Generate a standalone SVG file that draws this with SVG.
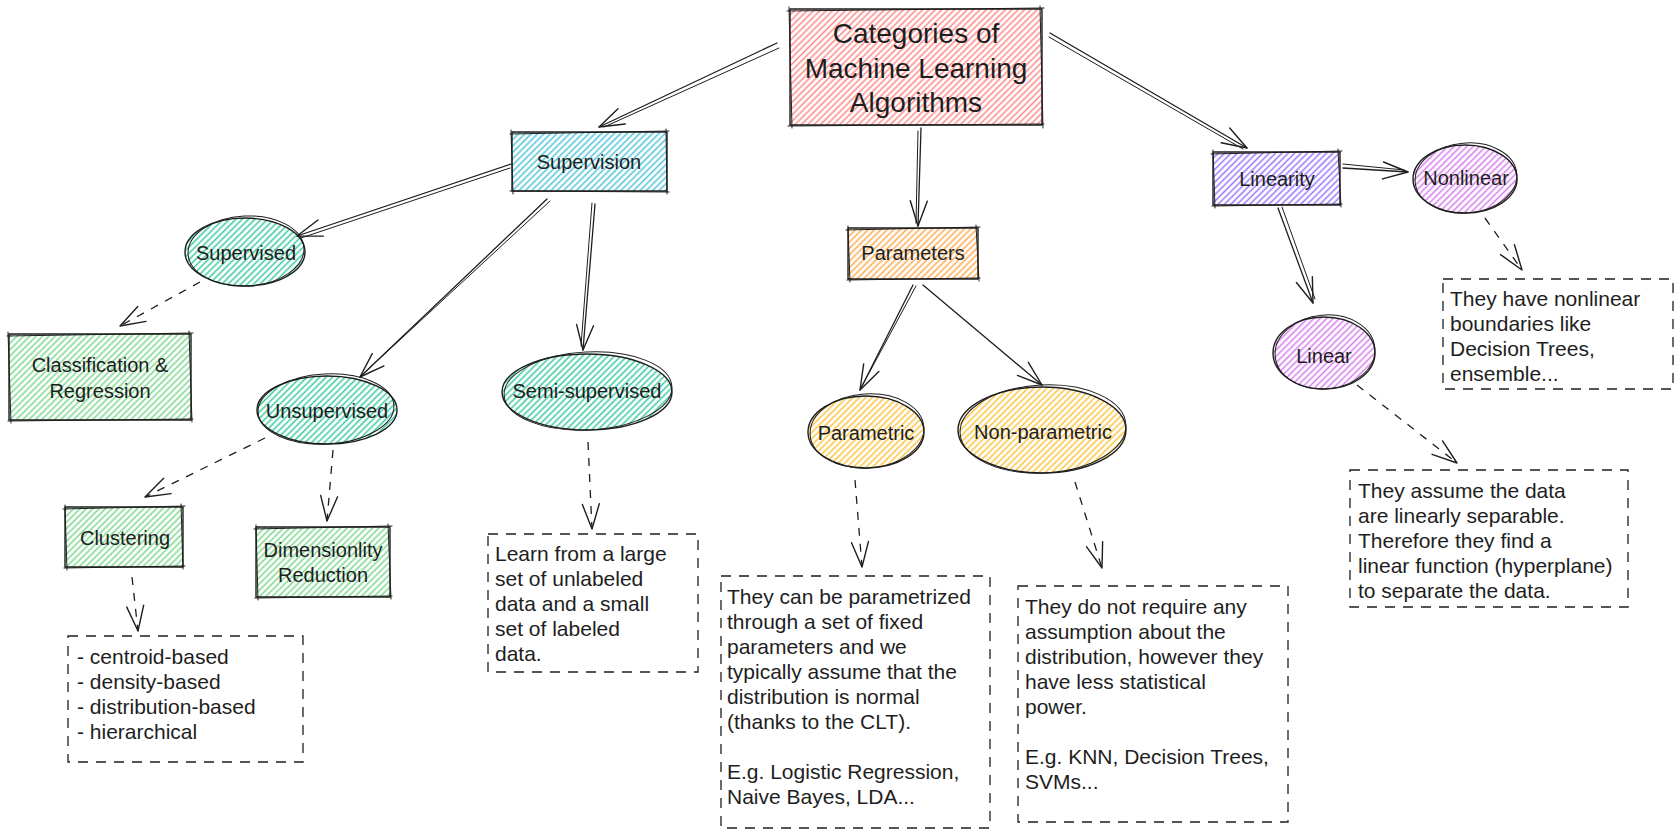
<svg xmlns="http://www.w3.org/2000/svg" width="1679" height="836" viewBox="0 0 1679 836">
<defs>
<style>
.o{fill:none;stroke:#1e1e1e;stroke-width:1.4;stroke-linecap:round;stroke-linejoin:round}
.o2{fill:none;stroke:#1e1e1e;stroke-width:1;stroke-linecap:round}
.c{fill:none;stroke:#1e1e1e;stroke-width:1.3;stroke-linecap:round}
.d{fill:none;stroke:#1e1e1e;stroke-width:1.3;stroke-dasharray:8 8}
.db{fill:none;stroke:#1e1e1e;stroke-width:1.3;stroke-dasharray:10 8}
.lbl{font-family:"Liberation Sans",Arial,sans-serif;font-size:20px;fill:#1e1e1e;text-anchor:middle;dominant-baseline:central}
.ttl{font-family:"Liberation Sans",Arial,sans-serif;font-size:28px;fill:#1e1e1e;text-anchor:middle;dominant-baseline:central}
.bt{font-family:"Liberation Sans",Arial,sans-serif;font-size:21px;fill:#1e1e1e;dominant-baseline:central}
</style>
<pattern id="hRed" width="4.5" height="10" patternUnits="userSpaceOnUse" patternTransform="rotate(45)"><line x1="2.25" y1="0" x2="2.25" y2="10" stroke="#ff8787" stroke-width="1.5"/></pattern>
<pattern id="hCyan" width="4.5" height="10" patternUnits="userSpaceOnUse" patternTransform="rotate(45)"><line x1="2.25" y1="0" x2="2.25" y2="10" stroke="#4fc3d9" stroke-width="1.5"/></pattern>
<pattern id="hTeal" width="4.5" height="10" patternUnits="userSpaceOnUse" patternTransform="rotate(45)"><line x1="2.25" y1="0" x2="2.25" y2="10" stroke="#38c99e" stroke-width="1.5"/></pattern>
<pattern id="hGreen" width="4.5" height="10" patternUnits="userSpaceOnUse" patternTransform="rotate(45)"><line x1="2.25" y1="0" x2="2.25" y2="10" stroke="#7bd88b" stroke-width="1.5"/></pattern>
<pattern id="hOrange" width="4.5" height="10" patternUnits="userSpaceOnUse" patternTransform="rotate(45)"><line x1="2.25" y1="0" x2="2.25" y2="10" stroke="#ffa94d" stroke-width="1.5"/></pattern>
<pattern id="hYellow" width="4.5" height="10" patternUnits="userSpaceOnUse" patternTransform="rotate(45)"><line x1="2.25" y1="0" x2="2.25" y2="10" stroke="#fcc33a" stroke-width="1.5"/></pattern>
<pattern id="hViolet" width="4.5" height="10" patternUnits="userSpaceOnUse" patternTransform="rotate(45)"><line x1="2.25" y1="0" x2="2.25" y2="10" stroke="#9775fa" stroke-width="1.5"/></pattern>
<pattern id="hGrape" width="4.5" height="10" patternUnits="userSpaceOnUse" patternTransform="rotate(45)"><line x1="2.25" y1="0" x2="2.25" y2="10" stroke="#d77bf0" stroke-width="1.5"/></pattern>
<marker id="ah" viewBox="-28 -12 30 24" refX="0" refY="0" markerWidth="30" markerHeight="24" markerUnits="userSpaceOnUse" orient="auto">
<path d="M-25,-8.5 L0,0 L-25,8.5" fill="none" stroke="#1e1e1e" stroke-width="1.4" stroke-linecap="round" stroke-linejoin="round"/>
</marker>
</defs>
<rect width="1679" height="836" fill="#ffffff"/>

<g id="connectors">
<path class="c" d="M777,43 L599,127" marker-end="url(#ah)"/>
<path class="o2" d="M779,48 L604,127"/>
<path class="c" d="M921,128 L918,226" marker-end="url(#ah)"/>
<path class="o2" d="M918,131 L916,223"/>
<path class="c" d="M1050,33 L1247,148" marker-end="url(#ah)"/>
<path class="o2" d="M1049,37 L1243,149"/>
<path class="c" d="M511,164 L297,236" marker-end="url(#ah)"/>
<path class="o2" d="M510,168 L301,238"/>
<path class="c" d="M547,199 L360,377" marker-end="url(#ah)"/>
<path class="o2" d="M550,201 L363,374"/>
<path class="c" d="M595,204 L583,350" marker-end="url(#ah)"/>
<path class="o2" d="M592,203 L581,346"/>
<path class="c" d="M913,285 L860,390" marker-end="url(#ah)"/>
<path class="o2" d="M916,286 L862,386"/>
<path class="c" d="M923,285 L1042,385" marker-end="url(#ah)"/>
<path class="c" d="M1343,168 L1408,172" marker-end="url(#ah)"/>
<path class="o2" d="M1343,164 L1404,170"/>
<path class="c" d="M1278,208 L1313,303" marker-end="url(#ah)"/>
<path class="o2" d="M1282,207 L1315,299"/>
<path class="d" d="M200,282 L120,326" marker-end="url(#ah)"/>
<path class="d" d="M265,438 L145,497" marker-end="url(#ah)"/>
<path class="d" d="M333,450 L327,521" marker-end="url(#ah)"/>
<path class="d" d="M132,577 L138,631" marker-end="url(#ah)"/>
<path class="d" d="M588,442 L592,529" marker-end="url(#ah)"/>
<path class="d" d="M855,480 L862,567" marker-end="url(#ah)"/>
<path class="d" d="M1075,482 L1102,568" marker-end="url(#ah)"/>
<path class="d" d="M1485,218 L1522,270" marker-end="url(#ah)"/>
<path class="d" d="M1357,385 L1457,463" marker-end="url(#ah)"/>
</g>

<g id="title">
<rect x="790" y="9" width="252" height="116" fill="url(#hRed)"/>
<rect class="o" x="790" y="9" width="252" height="116"/>
<path class="o2" d="M787,11 L1044,8 M1040,6 L1043,128 M1044,124 L788,126 M792,128 L789,7"/>
<text class="ttl" x="916" y="33">Categories of</text>
<text class="ttl" x="916" y="68">Machine Learning</text>
<text class="ttl" x="916" y="102">Algorithms</text>
</g>

<g id="supervision">
<rect x="512" y="132" width="155" height="59" fill="url(#hCyan)"/>
<rect class="o" x="512" y="132" width="155" height="59"/>
<path class="o2" d="M510,134 L669,131 M666,129 L667,194 M669,192 L510,191 M513,194 L511,130"/>
<text class="lbl" x="589" y="162">Supervision</text>
</g>

<g id="supervised">
<ellipse cx="245" cy="252" rx="60" ry="34" fill="url(#hTeal)"/>
<ellipse class="o" cx="245" cy="252" rx="60" ry="34"/>
<ellipse class="o2" cx="246" cy="251" rx="58" ry="35" transform="rotate(-3 246 251)"/>
<text class="lbl" x="246" y="253">Supervised</text>
</g>

<g id="classification">
<rect x="9" y="334" width="182" height="86" fill="url(#hGreen)"/>
<rect class="o" x="9" y="334" width="182" height="86"/>
<path class="o2" d="M7,336 L193,333 M189,331 L192,422 M193,419 L8,421 M11,423 L8,332"/>
<text class="lbl" x="100" y="365">Classification &amp;</text>
<text class="lbl" x="100" y="391">Regression</text>
</g>

<g id="unsupervised">
<ellipse cx="327" cy="410" rx="70" ry="34" fill="url(#hTeal)"/>
<ellipse class="o" cx="327" cy="410" rx="70" ry="34"/>
<ellipse class="o2" cx="326" cy="409" rx="68" ry="35" transform="rotate(-3 326 409)"/>
<text class="lbl" x="327" y="411">Unsupervised</text>
</g>

<g id="semisupervised">
<ellipse cx="587" cy="392" rx="85" ry="38" fill="url(#hTeal)"/>
<ellipse class="o" cx="587" cy="392" rx="85" ry="38"/>
<ellipse class="o2" cx="588" cy="391" rx="84" ry="39" transform="rotate(-3 588 391)"/>
<text class="lbl" x="587" y="391">Semi-supervised</text>
</g>

<g id="clustering">
<rect x="65" y="507" width="118" height="60" fill="url(#hGreen)"/>
<rect class="o" x="65" y="507" width="118" height="60"/>
<path class="o2" d="M63,509 L185,506 M181,504 L183,569 M185,566 L64,568 M67,570 L65,505"/>
<text class="lbl" x="125" y="538">Clustering</text>
</g>

<g id="dimensionality">
<rect x="256" y="527" width="134" height="70" fill="url(#hGreen)"/>
<rect class="o" x="256" y="527" width="134" height="70"/>
<path class="o2" d="M254,529 L392,526 M388,524 L391,599 M392,596 L255,598 M258,600 L256,525"/>
<text class="lbl" x="323" y="550">Dimensionlity</text>
<text class="lbl" x="323" y="575">Reduction</text>
</g>

<g id="clustering-note">
<rect class="db" x="68" y="636" width="235" height="126"/>
<text class="bt" x="77" y="656">- centroid-based</text>
<text class="bt" x="77" y="681">- density-based</text>
<text class="bt" x="77" y="706">- distribution-based</text>
<text class="bt" x="77" y="731">- hierarchical</text>
</g>

<g id="semi-note">
<rect class="db" x="488" y="534" width="210" height="138"/>
<text class="bt" x="495" y="553">Learn from a large</text>
<text class="bt" x="495" y="578">set of unlabeled</text>
<text class="bt" x="495" y="603">data and a small</text>
<text class="bt" x="495" y="628">set of labeled</text>
<text class="bt" x="495" y="653">data.</text>
</g>

<g id="parameters">
<rect x="848" y="228" width="130" height="51" fill="url(#hOrange)"/>
<rect class="o" x="848" y="228" width="130" height="51"/>
<path class="o2" d="M846,230 L980,227 M976,225 L979,281 M980,278 L847,280 M850,282 L848,226"/>
<text class="lbl" x="913" y="253">Parameters</text>
</g>

<g id="parametric">
<ellipse cx="866" cy="432" rx="58" ry="36" fill="url(#hYellow)"/>
<ellipse class="o" cx="866" cy="432" rx="58" ry="36"/>
<ellipse class="o2" cx="867" cy="431" rx="57" ry="37" transform="rotate(-4 867 431)"/>
<text class="lbl" x="866" y="433">Parametric</text>
</g>

<g id="nonparametric">
<ellipse cx="1042" cy="430" rx="84" ry="43" fill="url(#hYellow)"/>
<ellipse class="o" cx="1042" cy="430" rx="84" ry="43"/>
<ellipse class="o2" cx="1043" cy="429" rx="83" ry="44" transform="rotate(-3 1043 429)"/>
<text class="lbl" x="1043" y="432">Non-parametric</text>
</g>

<g id="parametric-note">
<rect class="db" x="721" y="576" width="269" height="252"/>
<text class="bt" x="727" y="596">They can be parametrized</text>
<text class="bt" x="727" y="621">through a set of fixed</text>
<text class="bt" x="727" y="646">parameters and we</text>
<text class="bt" x="727" y="671">typically assume that the</text>
<text class="bt" x="727" y="696">distribution is normal</text>
<text class="bt" x="727" y="721">(thanks to the CLT).</text>
<text class="bt" x="727" y="771">E.g. Logistic Regression,</text>
<text class="bt" x="727" y="796">Naive Bayes, LDA...</text>
</g>

<g id="nonparametric-note">
<rect class="db" x="1018" y="586" width="270" height="236"/>
<text class="bt" x="1025" y="606">They do not require any</text>
<text class="bt" x="1025" y="631">assumption about the</text>
<text class="bt" x="1025" y="656">distribution, however they</text>
<text class="bt" x="1025" y="681">have less statistical</text>
<text class="bt" x="1025" y="706">power.</text>
<text class="bt" x="1025" y="756">E.g. KNN, Decision Trees,</text>
<text class="bt" x="1025" y="781">SVMs...</text>
</g>

<g id="linearity">
<rect x="1213" y="152" width="127" height="53" fill="url(#hViolet)"/>
<rect class="o" x="1213" y="152" width="127" height="53"/>
<path class="o2" d="M1211,154 L1342,151 M1338,149 L1341,207 M1342,204 L1212,206 M1215,208 L1213,150"/>
<text class="lbl" x="1277" y="179">Linearity</text>
</g>

<g id="nonlinear">
<ellipse cx="1465" cy="179" rx="52" ry="34" fill="url(#hGrape)"/>
<ellipse class="o" cx="1465" cy="179" rx="52" ry="34"/>
<ellipse class="o2" cx="1466" cy="178" rx="51" ry="35" transform="rotate(-5 1466 178)"/>
<text class="lbl" x="1466" y="178">Nonlinear</text>
</g>

<g id="linear">
<ellipse cx="1324" cy="353" rx="51" ry="36" fill="url(#hGrape)"/>
<ellipse class="o" cx="1324" cy="353" rx="51" ry="36"/>
<ellipse class="o2" cx="1325" cy="352" rx="50" ry="37" transform="rotate(-5 1325 352)"/>
<text class="lbl" x="1324" y="356">Linear</text>
</g>

<g id="nonlinear-note">
<rect class="db" x="1443" y="279" width="230" height="110"/>
<text class="bt" x="1450" y="298">They have nonlinear</text>
<text class="bt" x="1450" y="323">boundaries like</text>
<text class="bt" x="1450" y="348">Decision Trees,</text>
<text class="bt" x="1450" y="373">ensemble...</text>
</g>

<g id="linear-note">
<rect class="db" x="1350" y="470" width="278" height="137"/>
<text class="bt" x="1358" y="490">They assume the data</text>
<text class="bt" x="1358" y="515">are linearly separable.</text>
<text class="bt" x="1358" y="540">Therefore they find a</text>
<text class="bt" x="1358" y="565">linear function (hyperplane)</text>
<text class="bt" x="1358" y="590">to separate the data.</text>
</g>
</svg>
